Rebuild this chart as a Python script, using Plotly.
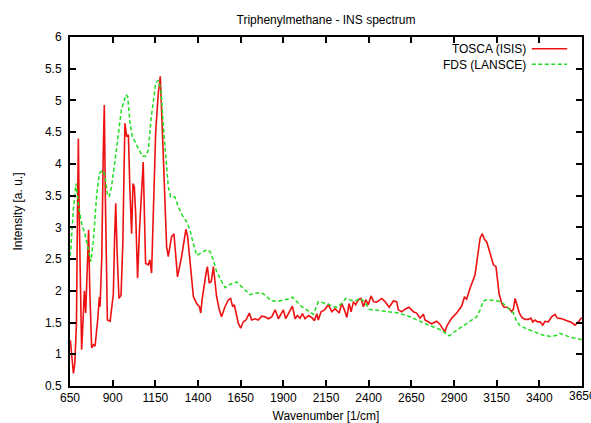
import plotly.graph_objects as go

# ---- data ----
tosca_wn = [652, 662, 670, 678, 688, 693, 699, 704, 712, 718, 726, 734, 742, 749, 753, 759, 766, 777, 787, 797,
            812, 822, 826, 836, 845, 851, 857, 869, 885, 904, 911, 918, 926, 937, 949, 960, 966, 972, 982, 992,
            1001, 1011, 1019, 1027, 1035, 1046, 1058, 1069, 1079, 1086, 1093, 1109, 1118, 1128, 1140, 1152, 1167,
            1179, 1196, 1216, 1226, 1245, 1259, 1280, 1304, 1329, 1339, 1363, 1373, 1392, 1408, 1416, 1424, 1447,
            1455, 1466, 1478, 1490, 1509, 1525, 1538, 1558, 1578, 1591, 1603, 1613, 1636, 1650, 1665, 1681, 1689,
            1701, 1714, 1734, 1753, 1773, 1793, 1812, 1832, 1852, 1871, 1881, 1900, 1914, 1934, 1953, 1969, 1982,
            1998, 2012, 2027, 2047, 2066, 2082, 2096, 2105, 2121, 2141, 2164, 2184, 2203, 2227, 2242, 2258, 2272,
            2285, 2297, 2311, 2324, 2340, 2355, 2369, 2383, 2398, 2414, 2428, 2447, 2477, 2496, 2520, 2545, 2564,
            2574, 2594, 2613, 2637, 2662, 2681, 2701, 2711, 2721, 2730, 2750, 2769, 2799, 2818, 2834, 2847, 2861,
            2887, 2916, 2945, 2961, 2974, 2994, 3010, 3023, 3033, 3043, 3053, 3066, 3078, 3092, 3107, 3121, 3131,
            3146, 3154, 3164, 3180, 3193, 3209, 3224, 3238, 3248, 3258, 3267, 3283, 3297, 3316, 3336, 3351, 3361,
            3375, 3390, 3404, 3420, 3433, 3453, 3472, 3492, 3506, 3531, 3560, 3590, 3609, 3629, 3648]
tosca_int = [1.22, 0.85, 0.70, 0.85, 1.5, 3.0, 4.40, 3.2, 1.6, 1.07, 1.5, 2.0, 1.65, 2.1, 2.6, 2.96, 2.0, 1.10, 1.15, 1.13,
             1.54, 1.9, 1.75, 2.5, 4.2, 4.93, 3.5, 1.54, 1.52, 1.95, 2.8, 3.38, 2.6, 1.88, 1.93, 2.8, 3.8, 4.64, 4.43, 4.46,
             3.6, 2.9, 3.69, 3.64, 3.2, 2.2, 3.0, 3.5, 4.03, 3.2, 2.43, 2.41, 2.49, 2.28, 3.5, 4.5, 5.1,
             5.38, 4.18, 2.70, 2.54, 2.85, 2.90, 2.22, 2.54, 2.97, 2.86, 2.12, 1.91, 1.80, 1.75, 1.65, 1.86, 2.28,
             2.38, 2.12, 2.15, 2.38, 1.91, 1.70, 1.59, 1.75, 1.86, 1.88, 1.75, 1.78, 1.49, 1.41, 1.51, 1.54, 1.59,
             1.65, 1.54, 1.56, 1.54, 1.60, 1.59, 1.56, 1.59, 1.70, 1.56, 1.61, 1.70, 1.56, 1.66, 1.76, 1.56, 1.61,
             1.57, 1.64, 1.56, 1.61, 1.58, 1.53, 1.64, 1.54, 1.67, 1.70, 1.78, 1.67, 1.72, 1.65, 1.80, 1.70, 1.58,
             1.80, 1.67, 1.83, 1.78, 1.86, 1.88, 1.75, 1.86, 1.78, 1.92, 1.83, 1.82, 1.88, 1.83, 1.74, 1.84, 1.83,
             1.70, 1.67, 1.71, 1.74, 1.67, 1.65, 1.57, 1.60, 1.63, 1.54, 1.51, 1.48, 1.52, 1.47, 1.40, 1.36, 1.46,
             1.57, 1.65, 1.76, 1.90, 1.87, 2.04, 2.14, 2.25, 2.44, 2.67, 2.83, 2.90, 2.81, 2.77, 2.62, 2.48, 2.41,
             2.38, 2.20, 1.96, 1.80, 1.74, 1.74, 1.72, 1.67, 1.71, 1.88, 1.80, 1.65, 1.58, 1.55, 1.55, 1.57, 1.51,
             1.54, 1.51, 1.51, 1.46, 1.52, 1.51, 1.59, 1.63, 1.57, 1.56, 1.53, 1.50, 1.46, 1.51, 1.58]

fds_wn = [650, 654, 670, 685, 700, 718, 737, 757, 773, 787, 807, 822, 841, 855, 869, 880, 893, 912, 932, 951,
          978, 988, 1001, 1015, 1031, 1046, 1060, 1074, 1093, 1109, 1124, 1138, 1152, 1167, 1183, 1197, 1210,
          1226, 1240, 1265, 1285, 1308, 1333, 1353, 1372, 1392, 1421, 1451, 1470, 1490, 1509, 1538, 1558, 1587,
          1626, 1646, 1675, 1705, 1734, 1773, 1793, 1812, 1832, 1871, 1900, 1930, 1953, 1978, 2008, 2037, 2076,
          2105, 2135, 2164, 2184, 2213, 2238, 2266, 2297, 2320, 2350, 2375, 2402, 2428, 2496, 2574, 2633, 2682,
          2721, 2760, 2818, 2873, 2916, 2974, 3033, 3053, 3072, 3092, 3121, 3160, 3189, 3218, 3248, 3267, 3287,
          3326, 3365, 3424, 3472, 3501, 3521, 3550, 3580, 3619, 3650]
fds_int = [2.55, 2.64, 3.3, 3.69, 3.35, 3.06, 2.9, 2.68, 2.46, 2.8, 3.53, 3.85, 3.90, 3.82, 3.53, 3.48, 3.64, 4.01, 4.43, 4.85,
           5.09, 5.06, 4.67, 4.43, 4.35, 4.27, 4.17, 4.12, 4.12, 4.22, 4.69, 5.01, 5.27, 5.32, 5.17, 4.59, 4.12,
           3.64, 3.48, 3.48, 3.32, 3.19, 3.09, 2.96, 2.75, 2.56, 2.60, 2.65, 2.62, 2.49, 2.30, 2.14, 2.05, 2.10,
           2.14, 2.09, 2.01, 1.94, 1.96, 1.97, 1.93, 1.88, 1.84, 1.84, 1.85, 1.87, 1.90, 1.83, 1.75, 1.70, 1.63,
           1.83, 1.81, 1.79, 1.76, 1.74, 1.79, 1.88, 1.85, 1.84, 1.88, 1.83, 1.71, 1.70, 1.68, 1.65, 1.60, 1.54,
           1.49, 1.45, 1.39, 1.29, 1.38, 1.48, 1.59, 1.70, 1.84, 1.86, 1.85, 1.84, 1.80, 1.72, 1.65, 1.52, 1.45,
           1.40, 1.36, 1.30, 1.28, 1.30, 1.33, 1.30, 1.27, 1.25, 1.23]

series_names = ["TOSCA (ISIS)", "FDS (LANSCE)"]
x_ticks = [650, 900, 1150, 1400, 1650, 1900, 2150, 2400, 2650, 2900, 3150, 3400, 3650]
y_ticks = [0.5, 1, 1.5, 2, 2.5, 3, 3.5, 4, 4.5, 5, 5.5, 6]

RED = "#ee1111"
GREEN = "#22dd22"
DASH = "4px,2.5px"
FONT = "Liberation Sans, Arial, Helvetica, sans-serif"

fig = go.Figure()
fig.add_trace(go.Scatter(x=tosca_wn, y=tosca_int, mode="lines", name=series_names[0],
                         line=dict(color=RED, width=1.6), showlegend=False))
fig.add_trace(go.Scatter(x=fds_wn, y=fds_int, mode="lines", name=series_names[1],
                         line=dict(color=GREEN, width=1.5, dash=DASH), showlegend=False))

# gnuplot-style key: text on the left, line sample on the right
fig.add_annotation(x=0.8945, y=0.944, xref="paper", yref="paper",
                   text="<br>".join(series_names), showarrow=False, align="right",
                   xanchor="right", yanchor="middle", font=dict(size=12, color="black", family=FONT))
for yk, col, dsh in [(0.966, RED, "solid"), (0.922, GREEN, DASH)]:
    fig.add_shape(type="line", xref="paper", yref="paper", x0=0.902, x1=0.971, y0=yk, y1=yk,
                  line=dict(color=col, width=1.5, dash=dsh))

# last tick label (plotly hides it because it runs past the page edge; the reference shows it clipped)
fig.add_annotation(x=x_ticks[-1], y=0, xref="x", yref="paper", text=str(x_ticks[-1]), showarrow=False,
                   xanchor="center", yanchor="top", yshift=-1, font=dict(size=12, color="black", family=FONT))

fig.update_layout(
    width=591, height=423,
    margin=dict(l=70, r=9, t=37, b=37, autoexpand=False),
    paper_bgcolor="white", plot_bgcolor="white",
    font=dict(family=FONT, size=12, color="black"),
    title=dict(text="Triphenylmethane - INS spectrum", x=326 / 591, xanchor="center",
               y=1 - 20 / 423, yanchor="middle", yref="container", font=dict(size=12)),
    xaxis=dict(range=[650, 3650], tickvals=x_ticks, ticks="inside", ticklen=6, tickwidth=2,
               tickcolor="black", showline=True, linewidth=2, linecolor="black", mirror="allticks",
               showgrid=False, zeroline=False,
               title=dict(text="Wavenumber [1/cm]", standoff=12, font=dict(size=12))),
    yaxis=dict(range=[0.5, 6], tickvals=y_ticks, ticks="inside", ticklen=6, tickwidth=2,
               tickcolor="black", showline=True, linewidth=2, linecolor="black", mirror="allticks",
               showgrid=False, zeroline=False, ticklabelstandoff=4,
               title=dict(text="Intensity [a. u.]", standoff=20, font=dict(size=12))),
)

fig.write_html("out.html", config={"displayModeBar": False},
               post_script="document.body.style.margin='0px';")
